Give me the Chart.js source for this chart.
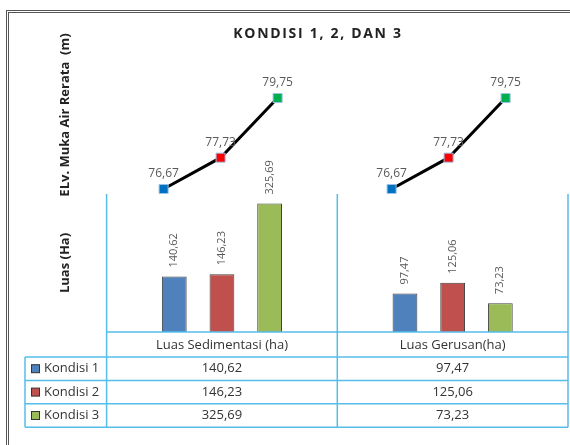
<!DOCTYPE html>
<html>
<head>
<meta charset="utf-8">
<script src="https://cdn.jsdelivr.net/npm/chart.js@4/dist/chart.umd.min.js"></script>
<style>
  html, body { margin: 0; padding: 0; background: #fff; }
  #wrap { position: relative; width: 570px; height: 445px; }
  #wrap canvas { position: absolute; left: 0; top: 0; }
</style>
</head>
<body>
<div id="wrap">
  <canvas id="bars" width="570" height="445"></canvas>
  <canvas id="line" width="570" height="445"></canvas>
</div>
<script>
// data
var categories = ["Luas Sedimentasi (ha)", "Luas Gerusan(ha)"];
var seriesNames = ["Kondisi 1", "Kondisi 2", "Kondisi 3"];
var kondisi1 = [140.62, 97.47];
var kondisi2 = [146.23, 125.06];
var kondisi3 = [325.69, 73.23];
var elevasi = [76.67, 77.73, 79.75];   // ELv. muka air rerata per kondisi

var barColors = ["#4F81BD", "#C0504D", "#9BBB59"];
var markColors = ["#0070C0", "#FF0000", "#00B050"];
var gridBlue = "#55BDEA";

Chart.defaults.font.family = "'Open Sans', sans-serif";
Chart.defaults.animation = false;

// elevation line sits on its own hidden axis: gap slot, 3 kondisi, per category
var lineLabels = [""];
var lineData = [null];
var pointColors = [null];
categories.forEach(function () {
    seriesNames.forEach(function (n, i) {
        lineLabels.push(n);
        lineData.push(elevasi[i]);
        pointColors.push(markColors[i]);
    });
    lineLabels.push("");
    lineData.push(null);
    pointColors.push(null);
});

function fmt(v) {
    return v.toFixed(2).replace('.', ',');
}

var sideTitle = function (text) {
    return {
        display: true, text: text, color: '#222',
        font: { size: 13, weight: 'bold' },
        padding: { top: 0, bottom: 34 }
    };
};

var barPlugin = {
    id: 'excelBars',
    beforeDraw: function (chart) {
        var ctx = chart.ctx;
        ctx.save();
        ctx.fillStyle = '#fff';
        ctx.fillRect(0, 0, chart.width, chart.height);
        ctx.strokeStyle = '#555';
        ctx.lineWidth = 1;
        ctx.strokeRect(6.5, 10.5, chart.width + 20, chart.height + 20);
        ctx.strokeRect(8.5, 12.5, chart.width + 20, chart.height + 20);
        ctx.restore();
    },
    afterDatasetsDraw: function (chart) {
        var ctx = chart.ctx;
        ctx.save();
        ctx.fillStyle = '#595959';
        ctx.font = "11px 'Open Sans'";
        chart.data.datasets.forEach(function (ds, d) {
            chart.getDatasetMeta(d).data.forEach(function (el, i) {
                ctx.save();
                ctx.translate(el.x, el.y - 9);
                ctx.rotate(-Math.PI / 2);
                ctx.textAlign = 'left';
                ctx.textBaseline = 'middle';
                ctx.fillText(fmt(ds.data[i]), 0, 0);
                ctx.restore();
            });
        });
        ctx.restore();
    },
    afterDraw: function (chart) {
        var ctx = chart.ctx;
        var xs = chart.scales.x;
        var ys = chart.scales.y;
        var left = xs.left, right = xs.right, mid = (left + right) / 2;
        var top = chart.chartArea.bottom;
        var headBottom = top + 25;
        var rowH = 23.4;
        var tableLeft = 25;
        var bottom = headBottom + rowH * 3;

        ctx.save();
        ctx.strokeStyle = gridBlue;
        ctx.lineWidth = 1.5;
        ctx.beginPath();
        [left, mid, right].forEach(function (x) {
            ctx.moveTo(x, ys.top);
            ctx.lineTo(x, bottom);
        });
        ctx.moveTo(left, top);
        ctx.lineTo(right, top);
        for (var r = 0; r <= 3; r++) {
            ctx.moveTo(tableLeft, headBottom + r * rowH);
            ctx.lineTo(right, headBottom + r * rowH);
        }
        ctx.moveTo(tableLeft, headBottom);
        ctx.lineTo(tableLeft, bottom);
        ctx.stroke();

        // data table rows
        var rows = [kondisi1, kondisi2, kondisi3];
        ctx.font = "13px 'Open Sans'";
        ctx.textBaseline = 'middle';
        rows.forEach(function (vals, r) {
            var cy = headBottom + rowH * (r + 0.5);
            ctx.fillStyle = barColors[r];
            ctx.strokeStyle = '#333';
            ctx.lineWidth = 1;
            ctx.fillRect(31.5, cy - 4, 8, 8);
            ctx.strokeRect(31.5, cy - 4, 8, 8);
            ctx.fillStyle = '#333';
            ctx.textAlign = 'left';
            ctx.fillText(seriesNames[r], 44, cy);
            ctx.textAlign = 'center';
            vals.forEach(function (v, c) {
                ctx.fillText(fmt(v), xs.getPixelForValue(c), cy);
            });
        });

        // chart title
        ctx.fillStyle = '#222';
        ctx.font = "bold 14px 'Open Sans'";
        ctx.letterSpacing = '1.7px';
        ctx.textAlign = 'center';
        ctx.fillText('KONDISI 1, 2, DAN 3', 318, 34);
        ctx.restore();
    }
};

var linePlugin = {
    id: 'lineLabels',
    afterDatasetsDraw: function (chart) {
        var ctx = chart.ctx;
        ctx.save();
        ctx.fillStyle = '#595959';
        ctx.font = "12px 'Open Sans'";
        ctx.textAlign = 'center';
        ctx.textBaseline = 'middle';
        chart.getDatasetMeta(0).data.forEach(function (pt, i) {
            var v = lineData[i];
            if (v === null) return;
            ctx.fillText(fmt(v), pt.x, pt.y - 15);
        });
        ctx.restore();
    }
};

// lower panel: bars + data table
new Chart(document.getElementById('bars'), {
    type: 'bar',
    data: {
        labels: categories,
        datasets: [kondisi1, kondisi2, kondisi3].map(function (vals, i) {
            return {
                label: seriesNames[i],
                data: vals,
                backgroundColor: barColors[i],
                borderColor: '#404040',
                borderWidth: 1,
                categoryPercentage: 0.62,
                barPercentage: 0.52
            };
        })
    },
    options: {
        responsive: false,
        layout: { padding: { left: 57, right: 2, top: 194, bottom: 88 } },
        plugins: { legend: { display: false }, tooltip: { enabled: false } },
        scales: {
            x: {
                grid: { display: false, drawTicks: false },
                border: { display: false },
                ticks: { color: '#333', font: { size: 13 }, padding: 5, maxRotation: 0 },
                afterFit: function (scale) { scale.height = 25; }
            },
            y: {
                min: 0,
                max: 350,
                grid: { display: false, drawTicks: false },
                border: { display: false },
                ticks: { display: false },
                title: sideTitle('Luas (Ha)')
            }
        }
    },
    plugins: [barPlugin]
});

// upper panel: elevation line
new Chart(document.getElementById('line'), {
    type: 'line',
    data: {
        labels: lineLabels,
        datasets: [{
            label: 'ELv. Muka Air Rerata',
            data: lineData,
            borderColor: '#000',
            borderWidth: 3,
            spanGaps: false,
            pointStyle: 'rect',
            pointRadius: 6.4,
            pointBackgroundColor: pointColors,
            pointBorderColor: '#9DC3E6',
            pointBorderWidth: 1,
            clip: false
        }]
    },
    options: {
        responsive: false,
        layout: { padding: { left: 57, right: 2, top: 36, bottom: 251 } },
        plugins: { legend: { display: false }, tooltip: { enabled: false } },
        scales: {
            x: { display: false, offset: false },
            y: {
                min: 76.5,
                max: 81.85,
                grid: { display: false, drawTicks: false },
                border: { display: false },
                ticks: { display: false },
                title: sideTitle('ELv. Muka Air Rerata  (m)')
            }
        }
    },
    plugins: [linePlugin]
});
</script>
</body>
</html>
